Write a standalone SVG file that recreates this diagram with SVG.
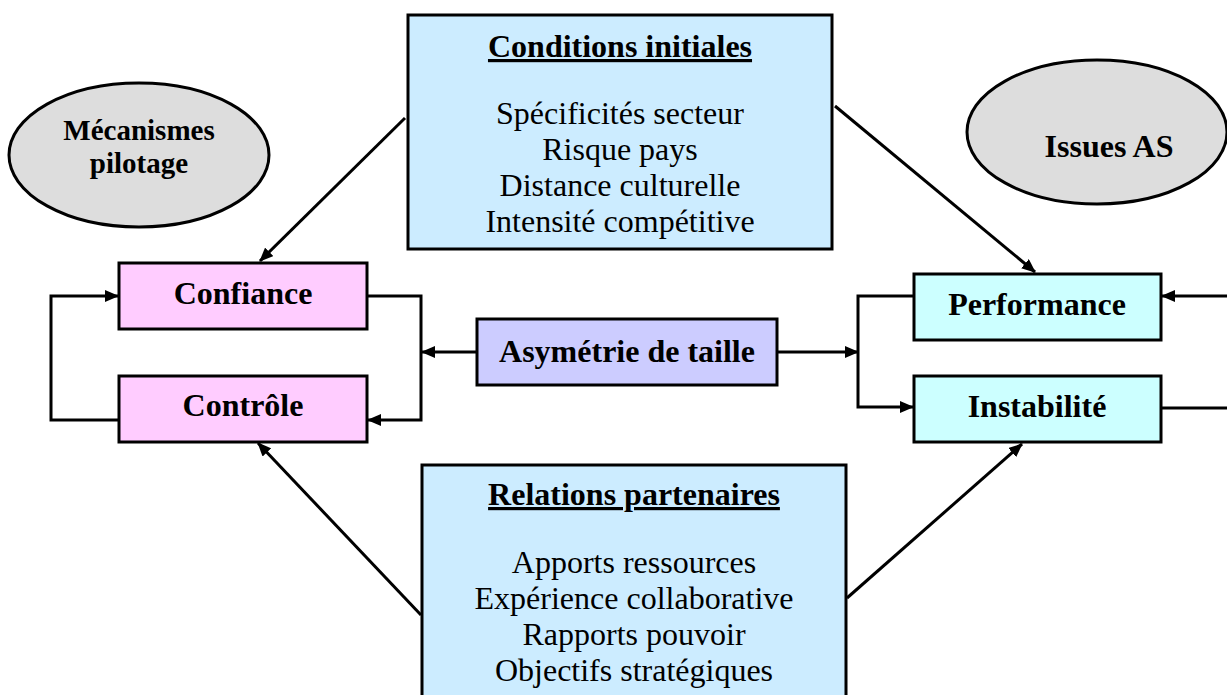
<svg xmlns="http://www.w3.org/2000/svg" width="1227" height="695" viewBox="0 0 1227 695">
<style>
.box{stroke:#000;stroke-width:3}
.info{fill:#CCECFF}
.pink{fill:#FFCCFF}
.lav{fill:#CCCCFF}
.cyan{fill:#CCFFFF}
.ell{fill:#DDDDDD;stroke:#000;stroke-width:3}
text{font-family:"Liberation Serif","Times New Roman",serif;fill:#000;text-anchor:middle}
.b{font-weight:bold;font-size:32px}
.r{font-size:32px}
.e{font-weight:bold;font-size:29px}
.conn{fill:none;stroke:#000;stroke-width:3}
</style>
<defs>
<marker id="arr" viewBox="0 0 14 12" refX="13" refY="6" markerWidth="14" markerHeight="12" markerUnits="userSpaceOnUse" orient="auto">
<path d="M0,0 L14,6 L0,12 z" fill="#000"/>
</marker>
</defs>

<g id="connectors">
<path class="conn" d="M405,118 L260,261" marker-end="url(#arr)"/>
<path class="conn" d="M835,106 L1035,272" marker-end="url(#arr)"/>
<path class="conn" d="M421,615 L258,443" marker-end="url(#arr)"/>
<path class="conn" d="M847,598 L1022,444" marker-end="url(#arr)"/>
<path class="conn" d="M118,420 H51 V296 H118" marker-end="url(#arr)"/>
<path class="conn" d="M368,296 H421 V420 H368" marker-end="url(#arr)"/>
<path class="conn" d="M477,352 H422" marker-end="url(#arr)"/>
<path class="conn" d="M777,352 H858" marker-end="url(#arr)"/>
<path class="conn" d="M913,296 H858 V407 H913" marker-end="url(#arr)"/>
<path class="conn" d="M1227,296 H1162" marker-end="url(#arr)"/>
<path class="conn" d="M1162,408 H1227"/>
</g>

<g id="conditions">
<rect class="box info" x="408" y="15" width="424" height="234"/>
<text class="b" x="620" y="57" text-decoration="underline">Conditions initiales</text>
<text class="r" x="620" y="124">Spécificités secteur</text>
<text class="r" x="620" y="160">Risque pays</text>
<text class="r" x="620" y="196">Distance culturelle</text>
<text class="r" x="620" y="232">Intensité compétitive</text>
</g>

<g id="relations">
<rect class="box info" x="422" y="465" width="424" height="240"/>
<text class="b" x="634" y="505" text-decoration="underline">Relations partenaires</text>
<text class="r" x="634" y="573">Apports ressources</text>
<text class="r" x="634" y="609">Expérience collaborative</text>
<text class="r" x="634" y="645">Rapports pouvoir</text>
<text class="r" x="634" y="681">Objectifs stratégiques</text>
</g>

<g id="mecanismes">
<ellipse class="ell" cx="139" cy="155" rx="130" ry="72"/>
<text class="e" x="139" y="140">Mécanismes</text>
<text class="e" x="139" y="173">pilotage</text>
</g>

<g id="issues">
<ellipse class="ell" cx="1097" cy="132" rx="130" ry="72"/>
<text class="b" x="1109" y="157">Issues AS</text>
</g>

<g id="confiance">
<rect class="box pink" x="119" y="263" width="248" height="66"/>
<text class="b" x="243" y="304">Confiance</text>
</g>

<g id="controle">
<rect class="box pink" x="119" y="376" width="248" height="66"/>
<text class="b" x="243" y="416">Contrôle</text>
</g>

<g id="asymetrie">
<rect class="box lav" x="477" y="319" width="300" height="66"/>
<text class="b" x="627" y="362">Asymétrie de taille</text>
</g>

<g id="performance">
<rect class="box cyan" x="914" y="274" width="247" height="66"/>
<text class="b" x="1037" y="315">Performance</text>
</g>

<g id="instabilite">
<rect class="box cyan" x="914" y="376" width="247" height="66"/>
<text class="b" x="1037" y="417">Instabilité</text>
</g>
</svg>
